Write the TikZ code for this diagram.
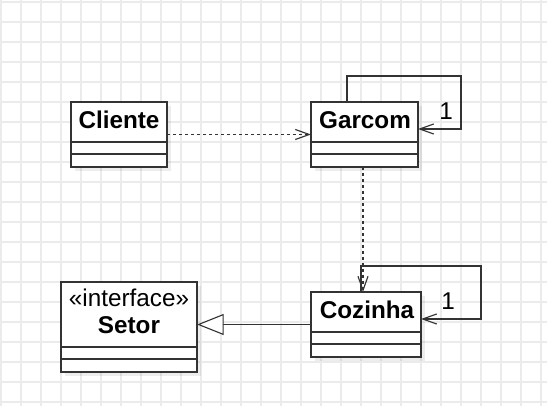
\documentclass[tikz,border=0pt]{standalone}
\usepackage{fontspec}
\setmainfont{Liberation Sans}
\usetikzlibrary{arrows.meta,calc,shadows}
\definecolor{gridc}{HTML}{EBEBEB}
\definecolor{linec}{HTML}{333333}
\begin{document}
\begin{tikzpicture}[x=0.75pt,y=-0.75pt,
  cls/.style={draw=linec, line width=1pt, fill=white, outer sep=0pt, inner sep=0pt, anchor=north west,
    drop shadow={shadow xshift=3pt, shadow yshift=-3pt, fill=black, opacity=0.07}},
  div/.style={draw=linec, line width=1pt},
  ttl/.style={font=\fontsize{18.2}{21}\selectfont\bfseries, anchor=base, inner sep=0pt},
  txt/.style={font=\fontsize{18.2}{21}\selectfont, anchor=base, inner sep=0pt},
  conn/.style={draw=linec, line width=0.85pt},
  dep/.style={conn, dash pattern=on 2.5pt off 2pt, -{Straight Barb[length=10.5pt,width=7.5pt]}},
  assoc/.style={conn, -{Straight Barb[length=10.5pt,width=7.5pt]}},
  real/.style={conn, -{Triangle[length=20pt,width=15.75pt,fill=white]}}
]
\useasboundingbox (0,0) rectangle (547,406);
\fill[white] (0,0) rectangle (547,406);
% grid
\foreach \gx in {1,21,...,541} \draw[gridc, line width=1.1pt] (\gx,0) -- (\gx,406);
\foreach \gy in {2,22,...,402} \draw[gridc, line width=1.1pt] (0,\gy) -- (547,\gy);

% classes
\node[cls, minimum width=72pt, minimum height=48.75pt] (cliente) at (71,102) {};
\node[cls, minimum width=80.25pt, minimum height=48.75pt] (garcom) at (311,102) {};
\node[cls, minimum width=82.5pt, minimum height=48.75pt] (cozinha) at (311,292) {};
\node[cls, minimum width=102pt, minimum height=67.5pt] (setor) at (61,282) {};

\foreach \c in {cliente,garcom,cozinha}{
  \draw[div] ($(\c.north west)+(0,40)$) -- ($(\c.north east)+(0,40)$);
  \draw[div] ($(\c.north west)+(0,52)$) -- ($(\c.north east)+(0,52)$);
}
\draw[div] ($(setor.north west)+(0,65)$) -- ($(setor.north east)+(0,65)$);
\draw[div] ($(setor.north west)+(0,77)$) -- ($(setor.north east)+(0,77)$);

\node[ttl] (cliente-t) at (119,129) {Cliente};
\node[ttl] (garcom-t) at (365,129) {Garcom};
\node[ttl] (cozinha-t) at (367,319) {Cozinha};
\node[txt] (setor-st) at (129,307) {«interface»};
\node[ttl] (setor-t) at (129,334) {Setor};

% connectors
\coordinate (gs) at ($(garcom.south)+(-1.5,0)$);
\draw[dep] (cliente.east) -- (garcom.west);
\draw[dep] (gs) -- (gs |- cozinha.north);
\draw[assoc] ($(garcom.north west)+(36,0)$) -- ++(0,-26) -- ++(114,0) -- ++(0,53) -- ($(garcom.north east)+(0,27)$);
\draw[assoc] ($(cozinha.north west)+(50,0)$) -- ++(0,-26) -- ++(120,0) -- ++(0,53) -- ($(cozinha.north east)+(0,27)$);
\draw[real] (cozinha.west) -- (setor.east |- cozinha.west);

\node[txt] (garcom-m) at (446,120) {1};
\node[txt] (cozinha-m) at (448,310) {1};
\end{tikzpicture}
\end{document}
